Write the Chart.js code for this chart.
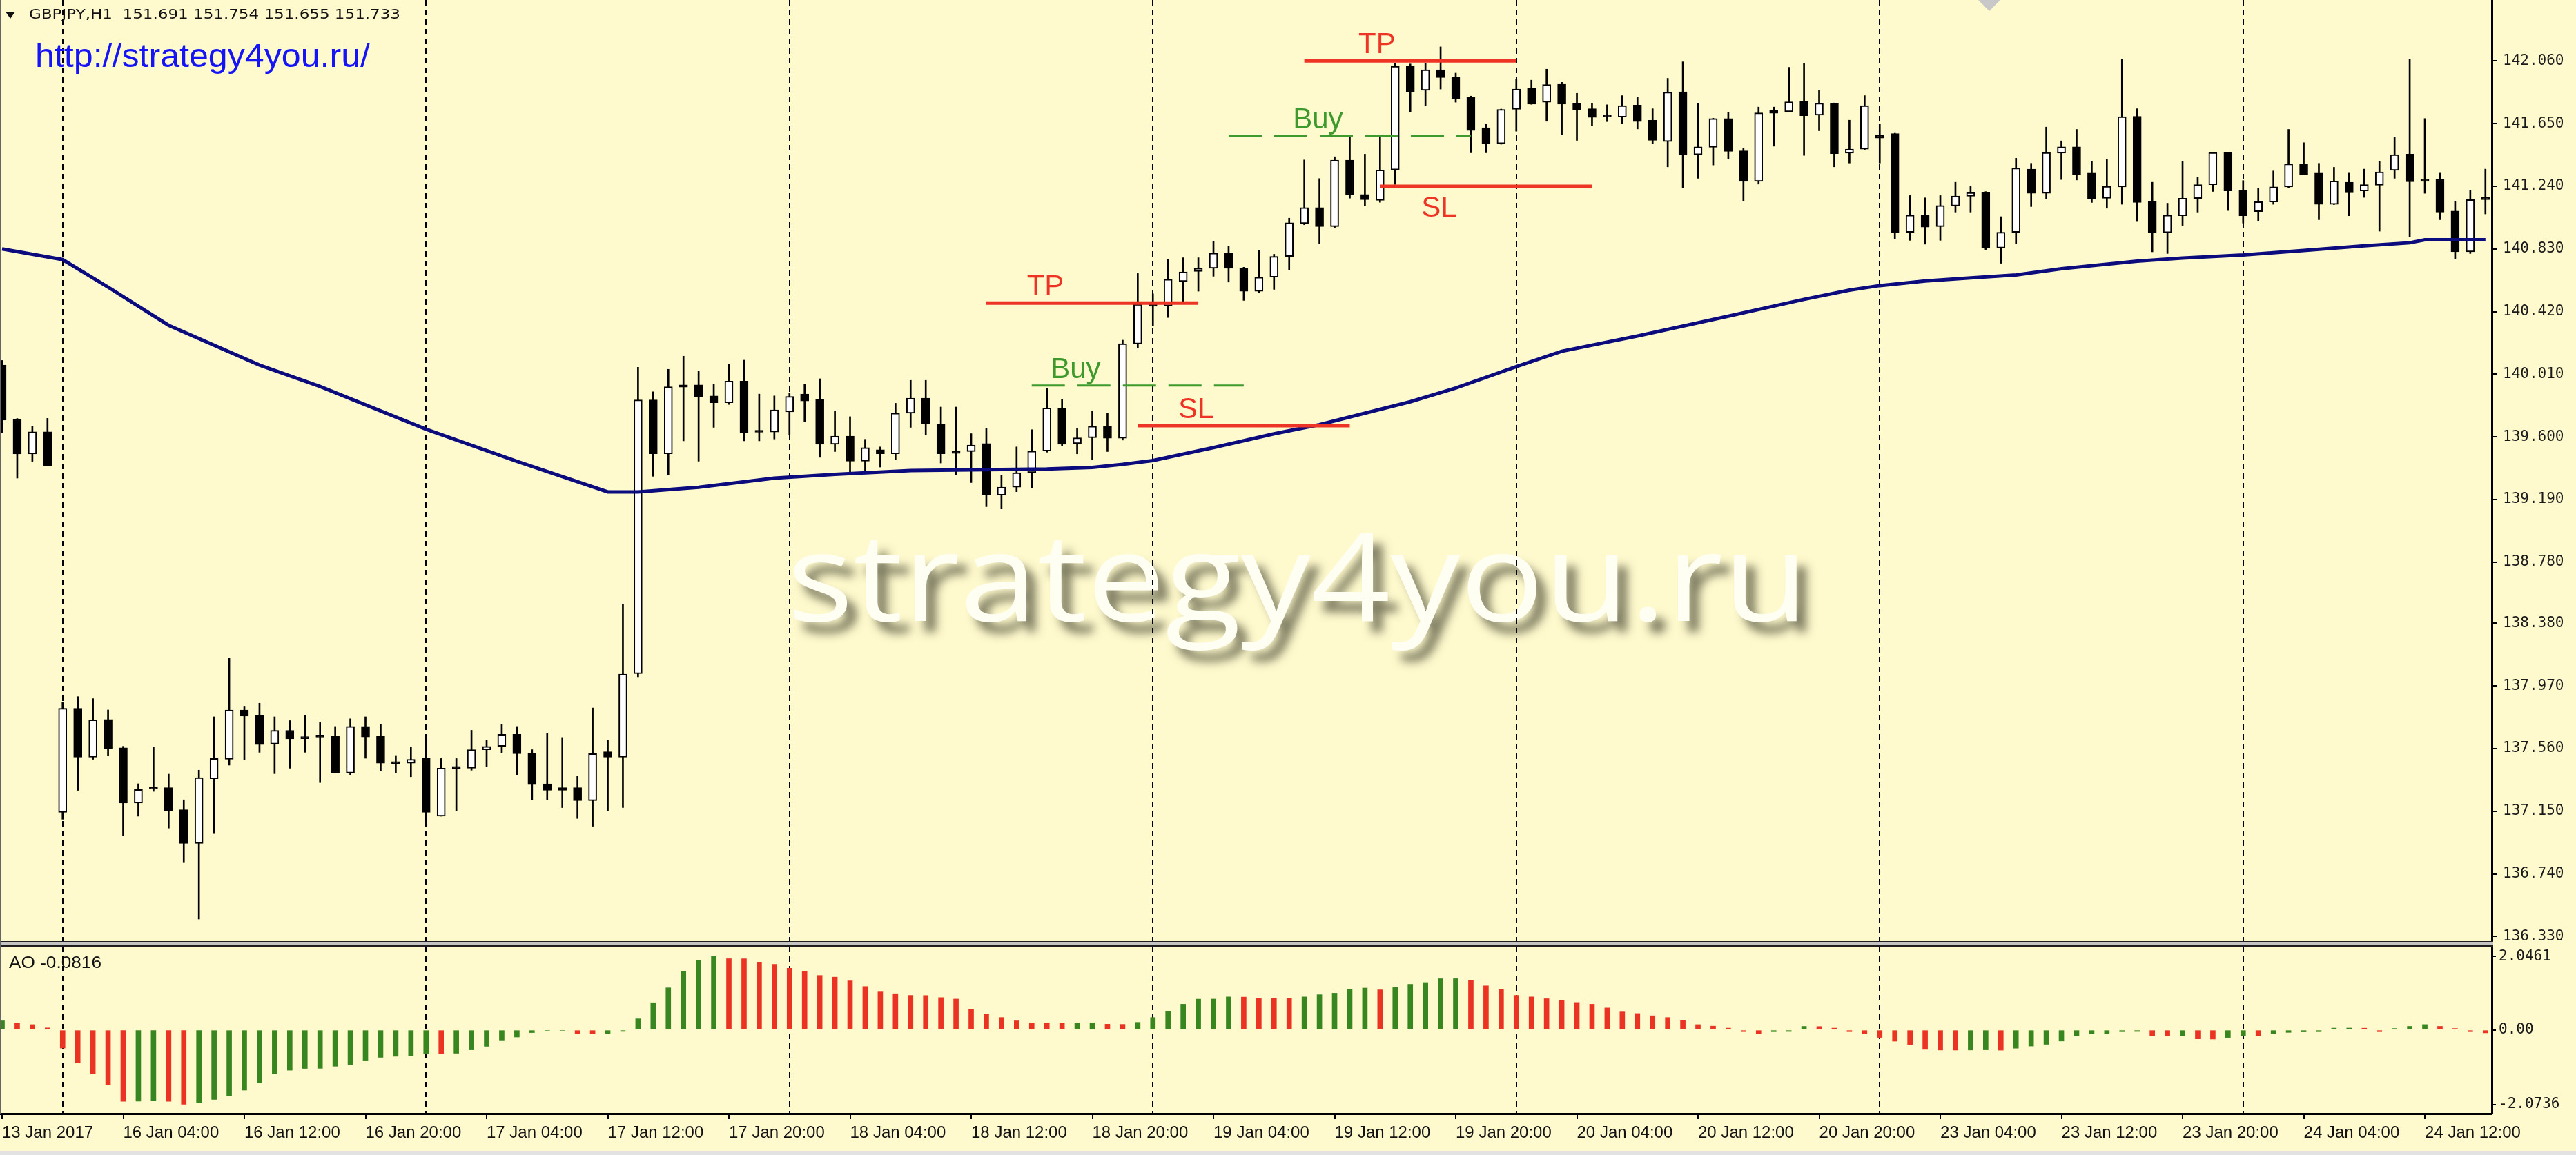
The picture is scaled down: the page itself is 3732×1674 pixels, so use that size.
<!DOCTYPE html>
<html>
<head>
<meta charset="utf-8">
<title>GBPJPY,H1</title>
<script src="https://cdn.jsdelivr.net/npm/chart.js@4.4.1/dist/chart.umd.min.js"></script>
<style>
  html, body { margin: 0; padding: 0; background: #fffacd; }
  canvas { display: block; }
</style>
</head>
<body>
<canvas id="chart" width="3732" height="1674"></canvas>
<script>
// GBPJPY H1 bars, 13 Jan 2017 20:00 .. 24 Jan 16:00 (one entry per hour bar)
const tickLabels = [
  '13 Jan 2017', '16 Jan 04:00', '16 Jan 12:00', '16 Jan 20:00', '17 Jan 04:00', '17 Jan 12:00',
  '17 Jan 20:00', '18 Jan 04:00', '18 Jan 12:00', '18 Jan 20:00', '19 Jan 04:00', '19 Jan 12:00',
  '19 Jan 20:00', '20 Jan 04:00', '20 Jan 12:00', '20 Jan 20:00', '23 Jan 04:00', '23 Jan 12:00',
  '23 Jan 20:00', '24 Jan 04:00', '24 Jan 12:00'
];
const tickEvery = 8;                                  // bars between time labels
const daySeparators = [4, 28, 52, 76, 100, 124, 148]; // bars that open a new day

const opens = [
  140.070, 139.716, 139.488, 139.633, 137.143, 137.824, 137.504, 137.750, 137.565, 137.204,
  137.305, 137.305, 137.160, 136.940, 137.363, 137.490, 137.813, 137.780, 137.590, 137.680,
  137.635, 137.645, 137.642, 137.400, 137.705, 137.640, 137.468, 137.465, 137.495, 137.118,
  137.435, 137.432, 137.553, 137.575, 137.654, 137.530, 137.330, 137.305, 137.305, 137.220,
  137.540, 137.504, 138.050, 139.842, 139.489, 139.940, 139.940, 139.868, 139.824, 139.965,
  139.635, 139.632, 139.764, 139.880, 139.845, 139.552, 139.605, 139.441, 139.516, 139.489,
  139.755, 139.853, 139.684, 139.507, 139.504, 139.556, 139.218, 139.271, 139.366, 139.507,
  139.789, 139.556, 139.594, 139.669, 139.591, 140.208, 140.465, 140.458, 140.617, 140.682,
  140.703, 140.803, 140.705, 140.553, 140.645, 140.781, 140.996, 141.100, 140.976, 141.411,
  141.186, 141.148, 141.347, 142.025, 141.868, 142.002, 141.956, 141.821, 141.623, 141.519,
  141.743, 141.879, 141.790, 141.908, 141.783, 141.747, 141.697, 141.693, 141.771, 141.672,
  141.532, 141.858, 141.447, 141.495, 141.683, 141.472, 141.272, 141.735, 141.728, 141.795,
  141.705, 141.783, 141.457, 141.483, 141.573, 141.585, 140.939, 141.051, 140.976, 141.111,
  141.175, 141.202, 140.836, 140.939, 141.352, 141.194, 141.457, 141.498, 141.326, 141.161,
  141.236, 141.698, 141.142, 140.936, 141.047, 141.160, 141.250, 141.460, 141.214, 141.074,
  141.137, 141.236, 141.386, 141.326, 141.122, 141.266, 141.209, 141.247, 141.344, 141.450,
  141.287, 141.287, 141.078, 140.811, 141.155
];
const highs = [
  140.100, 139.720, 139.670, 139.721, 137.862, 137.900, 137.887, 137.813, 137.575, 137.330,
  137.571, 137.393, 137.225, 137.419, 137.768, 138.153, 137.838, 137.857, 137.768, 137.743,
  137.780, 137.730, 137.705, 137.755, 137.768, 137.717, 137.515, 137.571, 137.642, 137.495,
  137.495, 137.680, 137.616, 137.717, 137.705, 137.553, 137.659, 137.633, 137.382, 137.826,
  137.616, 138.507, 140.055, 139.895, 140.042, 140.128, 140.030, 139.943, 140.078, 140.102,
  139.880, 139.868, 139.887, 139.943, 139.980, 139.770, 139.732, 139.584, 139.534, 139.820,
  139.970, 139.970, 139.795, 139.795, 139.621, 139.657, 139.351, 139.534, 139.647, 139.917,
  139.845, 139.657, 139.770, 139.755, 140.233, 140.669, 140.536, 140.760, 140.772, 140.772,
  140.881, 140.846, 140.710, 140.820, 140.795, 141.031, 141.412, 141.290, 141.433, 141.562,
  141.450, 141.562, 142.045, 142.040, 142.045, 142.152, 141.980, 141.830, 141.645, 141.745,
  141.942, 141.934, 142.006, 141.920, 141.848, 141.783, 141.773, 141.833, 141.821, 141.747,
  141.946, 142.054, 141.783, 141.685, 141.723, 141.487, 141.758, 141.758, 142.018, 142.043,
  141.870, 141.785, 141.672, 141.833, 141.648, 141.587, 141.179, 141.164, 141.179, 141.266,
  141.239, 141.205, 141.041, 141.423, 141.390, 141.627, 141.537, 141.612, 141.402, 141.415,
  142.070, 141.747, 141.266, 141.129, 141.402, 141.300, 141.462, 141.462, 141.277, 141.229,
  141.340, 141.612, 141.525, 141.390, 141.364, 141.326, 141.352, 141.402, 141.562, 142.070,
  141.683, 141.326, 141.142, 141.212, 141.352
];
const lows = [
  139.628, 139.330, 139.440, 139.413, 137.098, 137.287, 137.490, 137.515, 136.990, 137.118,
  137.280, 137.040, 136.814, 136.445, 137.004, 137.452, 137.485, 137.536, 137.396, 137.432,
  137.536, 137.338, 137.400, 137.390, 137.497, 137.414, 137.400, 137.376, 137.085, 137.118,
  137.153, 137.419, 137.440, 137.534, 137.390, 137.225, 137.225, 137.174, 137.103, 137.052,
  137.153, 137.174, 138.030, 139.342, 139.351, 139.574, 139.441, 139.662, 139.812, 139.574,
  139.574, 139.586, 139.612, 139.699, 139.466, 139.504, 139.361, 139.361, 139.402, 139.451,
  139.662, 139.612, 139.429, 139.354, 139.301, 139.143, 139.131, 139.241, 139.266, 139.500,
  139.541, 139.489, 139.451, 139.504, 139.579, 140.182, 140.329, 140.381, 140.484, 140.553,
  140.651, 140.613, 140.493, 140.544, 140.565, 140.691, 140.988, 140.864, 140.967, 141.162,
  141.114, 141.135, 141.252, 141.726, 141.766, 141.876, 141.790, 141.459, 141.459, 141.515,
  141.600, 141.776, 141.665, 141.577, 141.540, 141.637, 141.663, 141.652, 141.615, 141.517,
  141.367, 141.232, 141.292, 141.379, 141.417, 141.146, 141.254, 141.502, 141.725, 141.442,
  141.603, 141.367, 141.392, 141.480, 141.392, 140.897, 140.886, 140.861, 140.886, 141.071,
  141.071, 140.826, 140.736, 140.864, 141.107, 141.157, 141.284, 141.281, 141.134, 141.096,
  141.122, 141.009, 140.811, 140.800, 140.984, 141.071, 141.206, 141.081, 140.999, 141.011,
  141.122, 141.232, 141.315, 141.021, 141.120, 141.047, 141.167, 140.946, 141.292, 140.909,
  141.194, 141.021, 140.763, 140.800, 141.059
];
const closes = [
  139.710, 139.488, 139.633, 139.413, 137.824, 137.504, 137.748, 137.560, 137.204, 137.292,
  137.295, 137.153, 136.940, 137.370, 137.495, 137.813, 137.773, 137.586, 137.680, 137.624,
  137.625, 137.635, 137.400, 137.705, 137.636, 137.465, 137.462, 137.490, 137.143, 137.432,
  137.430, 137.553, 137.575, 137.654, 137.527, 137.325, 137.287, 137.287, 137.220, 137.527,
  137.504, 138.047, 139.842, 139.489, 139.928, 139.925, 139.862, 139.824, 139.965, 139.627,
  139.630, 139.777, 139.865, 139.835, 139.552, 139.605, 139.441, 139.529, 139.489, 139.755,
  139.853, 139.687, 139.489, 139.492, 139.546, 139.218, 139.271, 139.366, 139.507, 139.789,
  139.552, 139.594, 139.669, 139.591, 140.210, 140.467, 140.455, 140.631, 140.679, 140.703,
  140.803, 140.703, 140.553, 140.645, 140.781, 141.001, 141.100, 140.976, 141.411, 141.183,
  141.152, 141.347, 142.025, 141.856, 142.002, 141.951, 141.812, 141.605, 141.519, 141.743,
  141.876, 141.777, 141.905, 141.777, 141.738, 141.690, 141.693, 141.768, 141.663, 141.540,
  141.855, 141.445, 141.498, 141.683, 141.468, 141.272, 141.720, 141.717, 141.792, 141.702,
  141.783, 141.453, 141.483, 141.768, 141.555, 140.936, 141.051, 140.972, 141.114, 141.176,
  141.199, 140.836, 140.939, 141.359, 141.194, 141.460, 141.498, 141.317, 141.157, 141.239,
  141.695, 141.134, 140.936, 141.051, 141.161, 141.251, 141.460, 141.209, 141.047, 141.139,
  141.236, 141.386, 141.317, 141.122, 141.274, 141.197, 141.250, 141.334, 141.447, 141.269,
  141.272, 141.071, 140.811, 141.152, 141.152
];

// Awesome Oscillator, one value per bar
const ao = [
  0.254, 0.192, 0.149, 0.056, -0.506, -0.920, -1.228, -1.530, -1.988, -1.985,
  -1.980, -1.990, -2.0736, -2.037, -1.938, -1.833, -1.679, -1.475, -1.228, -1.123,
  -1.074, -1.070, -1.012, -0.969, -0.864, -0.765, -0.735, -0.722, -0.660, -0.665,
  -0.650, -0.556, -0.457, -0.302, -0.198, -0.074, -0.025, -0.020, -0.105, -0.110,
  -0.100, -0.043, 0.309, 0.759, 1.173, 1.623, 1.932, 2.0461, 1.985, 1.983,
  1.886, 1.827, 1.719, 1.627, 1.519, 1.472, 1.368, 1.210, 1.059, 1.010,
  0.963, 0.960, 0.901, 0.861, 0.581, 0.445, 0.346, 0.254, 0.198, 0.196,
  0.195, 0.198, 0.200, 0.160, 0.155, 0.211, 0.346, 0.519, 0.717, 0.858,
  0.860, 0.920, 0.915, 0.876, 0.874, 0.872, 0.920, 0.982, 1.025, 1.136,
  1.167, 1.118, 1.180, 1.272, 1.322, 1.427, 1.428, 1.383, 1.229, 1.124,
  0.963, 0.920, 0.870, 0.815, 0.766, 0.717, 0.612, 0.501, 0.457, 0.395,
  0.346, 0.260, 0.149, 0.106, 0.050, -0.049, -0.110, -0.050, -0.045, 0.099,
  0.095, 0.050, -0.049, -0.110, -0.209, -0.314, -0.406, -0.542, -0.561, -0.563,
  -0.560, -0.556, -0.565, -0.510, -0.450, -0.400, -0.310, -0.160, -0.110, -0.100,
  -0.050, -0.045, -0.160, -0.165, -0.160, -0.250, -0.255, -0.210, -0.160, -0.165,
  -0.100, -0.070, -0.055, -0.050, 0.050, 0.052, 0.048, -0.050, 0.040, 0.100,
  0.150, 0.100, 0.040, -0.050, -0.0816
];

// moving average, read at its turning points
const maIndex = [0, 4, 7, 11, 17, 21, 28, 34, 40, 42, 46, 51, 55, 60, 69, 72, 74, 76, 80, 84, 87,
  93, 96, 100, 103, 108, 114, 119, 122, 124, 127, 130, 133, 136, 141, 144, 148, 152, 156, 159, 160, 164];
const maValue = [140.83, 140.76, 140.58, 140.33, 140.07, 139.93, 139.65, 139.44, 139.24, 139.24, 139.27,
  139.33, 139.355, 139.38, 139.39, 139.40, 139.42, 139.445, 139.53, 139.62, 139.68, 139.83, 139.92,
  140.06, 140.16, 140.26, 140.39, 140.50, 140.56, 140.59, 140.62, 140.64, 140.66, 140.70, 140.75,
  140.77, 140.79, 140.82, 140.85, 140.87, 140.89, 140.89];

// trade levels drawn on the chart
const levelNames  = ['TP', 'Buy', 'SL', 'TP', 'Buy', 'SL'];
const levelPrices = [140.475, 139.936, 139.673, 142.060, 141.571, 141.240];
const levelFrom   = [65, 68, 75, 86, 81, 91];
const levelTo     = [79, 82, 89, 100, 97, 105];
const levelTextAt = [68.9, 70.9, 78.85, 90.8, 86.9, 94.9];
const levelTextBelow = [false, false, false, false, false, true];

const priceTicks = [142.06, 141.65, 141.24, 140.83, 140.42, 140.01, 139.60, 139.19,
  138.78, 138.38, 137.97, 137.56, 137.15, 136.74, 136.33];
const aoTicks = [2.0461, 0, -2.0736];
const aoTickLabels = ['2.0461', '0.00', '-2.0736'];

const headerText = 'GBPJPY,H1  151.691 151.754 151.655 151.733';
const siteText = 'http://strategy4you.ru/';
const watermark = 'strategy4you.ru';

// ---- styling ----
const bg = '#fffacd';
const red = '#ee3424';
const green = '#3e9a2c';
const aoUp = '#37861f';
const aoDown = '#ea3323';
const sans = "'Liberation Sans', Arial, sans-serif";
const mono = "'DejaVu Sans Mono', monospace";

const bars = opens.map((_, i) => i);
const bodies = bars.map(i => ({ x: i, y: [opens[i], closes[i]] }));
const wicks = bars.map(i => ({ x: i, y: [lows[i], highs[i]] }));
const bodyFill = bars.map(i => closes[i] >= opens[i] ? '#ffffff' : '#000000');
const aoBars = bars.map(i => ({ x: i, y: ao[i] }));
const aoColors = ao.map((v, i) => (i === 0 || v > ao[i - 1]) ? aoUp : aoDown);
const maLine = maIndex.map((x, k) => ({ x, y: maValue[k] }));

const levelSets = levelPrices.map((p, k) => {
  const isBuy = levelNames[k] === 'Buy';
  return {
    type: 'line',
    data: [{ x: levelFrom[k], y: p }, { x: levelTo[k], y: p }],
    yAxisID: 'y',
    borderColor: isBuy ? green : red,
    borderWidth: isBuy ? 3 : 5,
    borderDash: isBuy ? [48, 18] : [],
    pointRadius: 0,
    order: -2
  };
});

function fitText(ctx, text, x, y, width) {
  const w = ctx.measureText(text).width;
  ctx.save();
  ctx.translate(x, y);
  ctx.scale(width / w, 1);
  ctx.fillText(text, 0, 0);
  ctx.restore();
}

const terminalLook = {
  id: 'terminalLook',
  beforeDraw(chart) {
    const { ctx, width, height } = chart;
    ctx.save();
    ctx.fillStyle = bg;
    ctx.fillRect(0, 0, width, height);
    ctx.fillStyle = '#e2e2e2';
    ctx.fillRect(0, height - 6, width, 6);
    ctx.restore();
  },
  beforeDatasetsDraw(chart) {
    const { ctx, chartArea: a, scales } = chart;
    // watermark
    ctx.save();
    ctx.font = "178px 'Open Sans', sans-serif";
    ctx.textBaseline = 'alphabetic';
    ctx.shadowColor = 'rgba(70, 70, 50, 0.7)';
    ctx.shadowBlur = 14;
    ctx.shadowOffsetX = 14;
    ctx.shadowOffsetY = 16;
    ctx.fillStyle = '#fffef2';
    fitText(ctx, watermark, 1140, 900, 1480);
    ctx.restore();
    // period separators
    ctx.save();
    ctx.strokeStyle = '#000';
    ctx.lineWidth = 2;
    ctx.setLineDash([8, 6]);
    daySeparators.forEach(d => {
      const x = Math.round(scales.x.getPixelForValue(d));
      ctx.beginPath();
      ctx.moveTo(x, a.top);
      ctx.lineTo(x, a.bottom);
      ctx.stroke();
    });
    ctx.restore();
  },
  afterDatasetsDraw(chart) {
    const { ctx, scales } = chart;
    ctx.save();
    ctx.font = '42px ' + sans;
    ctx.textAlign = 'center';
    levelNames.forEach((name, k) => {
      const x = scales.x.getPixelForValue(levelTextAt[k]);
      const y = scales.y.getPixelForValue(levelPrices[k]);
      ctx.fillStyle = name === 'Buy' ? green : red;
      if (levelTextBelow[k]) {
        ctx.textBaseline = 'top';
        ctx.fillText(name, x, y + 12);
      } else {
        ctx.textBaseline = 'alphabetic';
        ctx.fillText(name, x, y - 11);
      }
    });
    ctx.restore();
  },
  afterDraw(chart) {
    const { ctx, chartArea: a, scales } = chart;
    const split = Math.round(scales.ao.top);
    ctx.save();
    // splitter between price window and indicator window
    ctx.fillStyle = '#1e1e1e';
    ctx.fillRect(0, split - 4, a.right + 2, 2);
    ctx.fillStyle = '#c4c4c4';
    ctx.fillRect(0, split - 2, a.right + 2, 4);
    ctx.fillStyle = '#1e1e1e';
    ctx.fillRect(0, split + 2, a.right + 2, 2);
    ctx.fillStyle = '#666';
    ctx.fillRect(0, a.top, 1, a.bottom - a.top);
    // chart shift marker
    ctx.fillStyle = '#c8c8c8';
    ctx.beginPath();
    ctx.moveTo(2866, 0); ctx.lineTo(2898, 0); ctx.lineTo(2882, 16);
    ctx.closePath(); ctx.fill();
    // symbol header
    ctx.fillStyle = '#111';
    ctx.beginPath();
    ctx.moveTo(8, 17); ctx.lineTo(22, 17); ctx.lineTo(15, 27);
    ctx.closePath(); ctx.fill();
    ctx.textBaseline = 'alphabetic';
    ctx.font = "20px 'DejaVu Sans', sans-serif";
    fitText(ctx, headerText, 42, 27, 538);
    ctx.fillStyle = '#1414f5';
    ctx.font = '48px ' + sans;
    fitText(ctx, siteText, 51, 97, 485);
    ctx.fillStyle = '#111';
    ctx.font = '24px ' + sans;
    fitText(ctx, 'AO ' + ao[ao.length - 1].toFixed(4), 13, split + 35, 134);
    ctx.restore();
  }
};

new Chart(document.getElementById('chart'), {
  type: 'bar',
  data: {
    datasets: [
      ...levelSets,
      {
        type: 'line', label: 'MA', data: maLine, yAxisID: 'y',
        borderColor: '#0b0b7e', borderWidth: 5, pointRadius: 0, tension: 0, order: -1
      },
      {
        label: 'body', data: bodies, yAxisID: 'y',
        backgroundColor: bodyFill, borderColor: '#000', borderWidth: 2, borderSkipped: false,
        barThickness: 12, minBarLength: 3, grouped: false, order: 1
      },
      {
        label: 'wick', data: wicks, yAxisID: 'y',
        backgroundColor: '#000', borderWidth: 0, barThickness: 2, grouped: false, order: 2
      },
      {
        label: 'AO', data: aoBars, yAxisID: 'ao',
        backgroundColor: aoColors, borderWidth: 0, barThickness: 7, grouped: false, order: 3
      }
    ]
  },
  options: {
    responsive: false,
    devicePixelRatio: 1,
    animation: false,
    events: [],
    layout: { padding: 0, autoPadding: false },
    plugins: { legend: { display: false }, tooltip: { enabled: false } },
    scales: {
      x: {
        type: 'linear',
        min: -0.137,
        max: 164.42,
        offset: false,
        grid: { offset: false, drawOnChartArea: false, drawTicks: true, tickLength: 8, color: '#000', lineWidth: 2 },
        border: { display: true, color: '#000', width: 3 },
        ticks: {
          autoSkip: false, maxRotation: 0, minRotation: 0, align: 'start', padding: 6,
          color: '#111', font: { family: sans, size: 24 },
          callback: (v, k) => tickLabels[k]
        },
        afterBuildTicks: s => { s.ticks = tickLabels.map((_, k) => ({ value: k * tickEvery })); },
        afterFit: s => { s.height = 60; s.paddingLeft = 0; s.paddingRight = 0; }
      },
      y: {
        type: 'linear',
        position: 'right',
        stack: 'pane',
        stackWeight: 1368,
        bounds: 'data',
        min: 136.2825,
        max: 142.4586,
        grid: { drawOnChartArea: false, drawTicks: true, tickLength: 8, color: '#000', lineWidth: 2 },
        border: { display: true, color: '#000', width: 3 },
        ticks: {
          autoSkip: false, padding: 8, color: '#1a1a1a', font: { family: mono, size: 21 },
          callback: v => v.toFixed(3)
        },
        afterBuildTicks: s => { s.ticks = priceTicks.map(v => ({ value: v })); },
        afterFit: s => { s.width = 122; s.paddingTop = 0; s.paddingBottom = 0; }
      },
      ao: {
        type: 'linear',
        position: 'right',
        stack: 'pane',
        stackWeight: 246,
        bounds: 'data',
        min: -2.333,
        max: 2.398,
        grid: { drawOnChartArea: false, drawTicks: true, tickLength: 6, color: '#000', lineWidth: 2 },
        border: { display: true, color: '#000', width: 3 },
        ticks: {
          autoSkip: false, padding: 4, color: '#1a1a1a', font: { family: mono, size: 21 },
          callback: (v, k) => aoTickLabels[k]
        },
        afterBuildTicks: s => { s.ticks = aoTicks.map(v => ({ value: v })); },
        afterFit: s => { s.width = 122; s.paddingTop = 0; s.paddingBottom = 0; }
      }
    }
  },
  plugins: [terminalLook]
});
</script>
</body>
</html>
